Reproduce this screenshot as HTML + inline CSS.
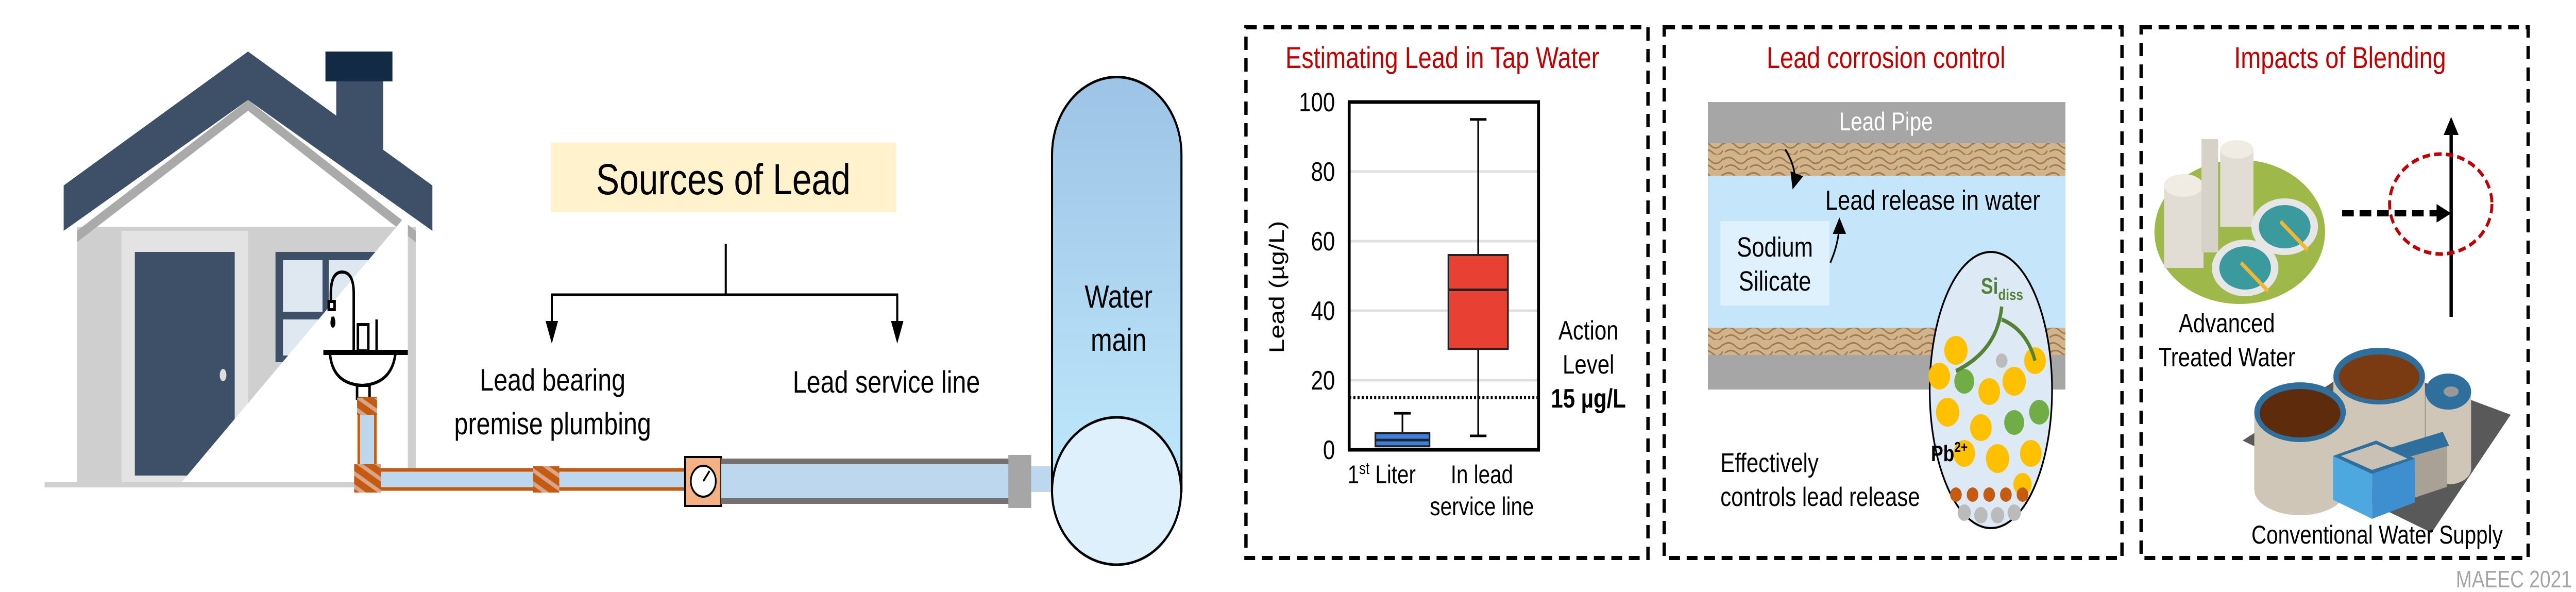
<!DOCTYPE html>
<html><head><meta charset="utf-8"><style>
html,body{margin:0;padding:0;background:#fff;width:100%;height:100%;overflow:hidden;}
svg{display:block;width:100vw;height:100vh;font-family:"Liberation Sans",Arial,sans-serif;}
</style></head><body>
<svg id="root" viewBox="0 0 6190 1149" preserveAspectRatio="none" xmlns="http://www.w3.org/2000/svg" overflow="hidden">
<defs>
<linearGradient id="mainGrad" x1="0" y1="0" x2="0" y2="1"><stop offset="0" stop-color="#9dc3e6"/><stop offset="1" stop-color="#bfe8fc"/></linearGradient>
<pattern id="hatch" width="22" height="22" patternUnits="userSpaceOnUse" patternTransform="rotate(-60)"><rect width="22" height="22" fill="#c55a11"/><rect width="8" height="22" fill="#d9a58a"/></pattern>
<pattern id="scale" width="60" height="30" patternUnits="userSpaceOnUse"><rect width="60" height="30" fill="#d2b48c"/><path d="M0 10 Q15 0 30 12 T60 8 M5 25 Q20 15 35 26 T60 22" stroke="#a07a4c" stroke-width="3" fill="none"/></pattern>
<marker id="ah" markerWidth="8" markerHeight="8" refX="6" refY="4" orient="auto"><path d="M0 0 L8 4 L0 8 Z" fill="#000"/></marker>
</defs>

<!-- HOUSE -->
<g>
<rect x="185" y="440" width="814" height="498" fill="#cfcfcf"/>
<polygon points="596,194 185,448 185,470 596,215" fill="#aaa"/>
<polygon points="596,194 999,448 999,470 596,215" fill="#aaa"/>
<rect x="808" y="158" width="113" height="135" fill="#3d5068"/>
<rect x="782" y="100" width="161" height="58" fill="#132a45"/>
<polygon points="153,360 596,100 1039,360 1039,448 596,194 153,448" fill="#3d5068"/>
<rect x="292" y="448" width="304" height="490" fill="#e3e3e3"/>
<rect x="324" y="489" width="240" height="434" fill="#3d5068"/>
<ellipse cx="536" cy="728" rx="8" ry="12" fill="#ddd"/>
<rect x="662" y="489" width="244" height="214" fill="#3d5068"/>
<rect x="680" y="505" width="95" height="100" fill="#dfe8f0"/><rect x="790" y="505" width="100" height="100" fill="#dfe8f0"/>
<rect x="680" y="620" width="95" height="70" fill="#dfe8f0"/><rect x="790" y="620" width="100" height="70" fill="#dfe8f0"/>
<polygon points="980,414 980,938 434,938" fill="#fff"/>
<rect x="107" y="936" width="744" height="10" fill="#d0d0d0"/>
</g>
<!-- SINK -->
<g fill="none" stroke="#000" stroke-width="6">
<path d="M850 681 L850 570 Q850 528 822 528 Q795 528 795 570 L795 585"/>
<rect x="790" y="585" width="14" height="16" fill="#fff"/>
<path d="M800 615 q-6 14 0 18 q6 -4 0 -18" />
<rect x="860" y="630" width="25" height="51" fill="#fff"/>
<line x1="905" y1="620" x2="905" y2="681"/>
<line x1="777" y1="684" x2="980" y2="684" stroke-width="10"/>
<path d="M793 688 Q800 745 870 748 Q940 745 950 688"/>
<rect x="858" y="748" width="30" height="25" fill="#fff"/>
</g>
<!-- PIPES -->
<g>
<rect x="862" y="773" width="40" height="170" fill="#bdd7ee" stroke="#c55a11" stroke-width="6"/>
<rect x="915" y="912" width="731" height="37" fill="#bdd7ee"/>
<line x1="900" y1="912" x2="1646" y2="912" stroke="#c55a11" stroke-width="7"/>
<line x1="900" y1="949" x2="1646" y2="949" stroke="#c55a11" stroke-width="7"/>
<rect x="858" y="773" width="48" height="32" fill="url(#hatch)"/>
<rect x="851" y="901" width="64" height="55" fill="url(#hatch)"/>
<rect x="1281" y="905" width="63" height="51" fill="url(#hatch)"/>
</g>
<g>
<rect x="1646" y="887" width="87" height="95" fill="#f4b183" stroke="#000" stroke-width="4"/>
<circle cx="1690" cy="934" r="30" fill="#fff" stroke="#000" stroke-width="4"/>
<line x1="1690" y1="934" x2="1705" y2="914" stroke="#000" stroke-width="4"/>
</g>
<g>
<rect x="1733" y="890" width="693" height="88" fill="#bdd7ee"/>
<rect x="1733" y="890" width="693" height="11" fill="#767171"/>
<rect x="1733" y="967" width="693" height="11" fill="#767171"/>
<rect x="2423" y="883" width="55" height="103" fill="#a6a6a6"/>
<rect x="2478" y="905" width="52" height="50" fill="#bdd7ee"/>
</g>
<g>
<path d="M2528 953 L2528 300 A155 150 0 0 1 2839 300 L2839 953 Z" fill="url(#mainGrad)" stroke="#000" stroke-width="5"/>
<ellipse cx="2683" cy="953" rx="155" ry="143" fill="#ddf0fc" stroke="#000" stroke-width="5"/>
<text x="2688" y="597" font-size="62" text-anchor="middle">Water</text>
<text x="2688" y="681" font-size="62" text-anchor="middle">main</text>
</g>
<!-- SOURCES -->
<rect x="1324" y="277" width="830" height="135" fill="#fff2cc"/>
<text x="1738" y="377" font-size="84" text-anchor="middle">Sources of Lead</text>
<g stroke="#000" stroke-width="5" fill="none">
<line x1="1744" y1="473" x2="1744" y2="572"/>
<line x1="1324" y1="572" x2="2158" y2="572"/>
<line x1="1326" y1="570" x2="1326" y2="630"/><line x1="2156" y1="570" x2="2156" y2="630"/>
</g>
<polygon points="1311,623 1341,623 1326,667" fill="#000"/>
<polygon points="2141,623 2171,623 2156,667" fill="#000"/>
<text x="1328" y="758" font-size="60" text-anchor="middle">Lead bearing</text>
<text x="1328" y="843" font-size="60" text-anchor="middle">premise plumbing</text>
<text x="2130" y="762" font-size="60" text-anchor="middle">Lead service line</text>

<!-- PANELS -->
<g fill="none" stroke="#000" stroke-width="8" stroke-dasharray="26 16">
<rect x="2994" y="53" width="966" height="1030"/>
<rect x="3999" y="53" width="1100" height="1030"/>
<rect x="5145" y="53" width="930" height="1030"/>
</g>
<text x="3466" y="132" font-size="58" fill="#c00000" text-anchor="middle">Estimating Lead in Tap Water</text>
<text x="4532" y="132" font-size="58" fill="#c00000" text-anchor="middle">Lead corrosion control</text>
<text x="5623" y="132" font-size="58" fill="#c00000" text-anchor="middle">Impacts of Blending</text>

<!-- CHART -->
<g id="chart"></g>
<text x="3817" y="659" font-size="52" text-anchor="middle">Action</text>
<text x="3817" y="725" font-size="52" text-anchor="middle">Level</text>
<text x="3817" y="791" font-size="52" font-weight="bold" text-anchor="middle">15 µg/L</text>

<!-- CORROSION -->
<g>
<rect x="4104" y="198" width="859" height="558" fill="#a6a6a6"/>
<rect x="4104" y="278" width="859" height="63" fill="url(#scale)"/>
<rect x="4104" y="341" width="859" height="295" fill="#c5e6fa"/>
<rect x="4104" y="636" width="859" height="53" fill="url(#scale)"/>
<text x="4532" y="253" font-size="50" fill="#fff" text-anchor="middle">Lead Pipe</text>
<path d="M4290 290 Q4320 330 4310 360" stroke="#000" stroke-width="4" fill="none" marker-end="url(#ah)"/>
<text x="4386" y="407" font-size="54">Lead release in water</text>
<rect x="4134" y="429" width="262" height="164" fill="#dff1fc"/>
<text x="4265" y="498" font-size="54" text-anchor="middle">Sodium</text>
<text x="4265" y="564" font-size="54" text-anchor="middle">Silicate</text>
<path d="M4398 510 Q4420 470 4420 430" stroke="#000" stroke-width="4" fill="none" marker-end="url(#ah)"/>
<ellipse cx="4784" cy="757" rx="147" ry="268" fill="#dde9f5" stroke="#000" stroke-width="4"/>
<g>
<circle cx="4700" cy="680" r="28" fill="#ffc000"/><circle cx="4660" cy="730" r="26" fill="#ffc000"/><circle cx="4720" cy="740" r="24" fill="#70ad47"/>
<circle cx="4780" cy="760" r="26" fill="#ffc000"/><circle cx="4840" cy="740" r="28" fill="#ffc000"/><circle cx="4890" cy="700" r="26" fill="#ffc000"/>
<circle cx="4810" cy="700" r="14" fill="#bbb"/><circle cx="4680" cy="800" r="28" fill="#ffc000"/><circle cx="4760" cy="830" r="26" fill="#ffc000"/>
<circle cx="4840" cy="820" r="24" fill="#70ad47"/><circle cx="4900" cy="800" r="24" fill="#70ad47"/><circle cx="4720" cy="880" r="26" fill="#ffc000"/>
<circle cx="4800" cy="890" r="28" fill="#ffc000"/><circle cx="4880" cy="880" r="26" fill="#ffc000"/><circle cx="4860" cy="940" r="22" fill="#ffc000"/>
<circle cx="4700" cy="960" r="14" fill="#c55a11"/><circle cx="4740" cy="960" r="14" fill="#c55a11"/><circle cx="4780" cy="960" r="14" fill="#c55a11"/><circle cx="4820" cy="960" r="14" fill="#c55a11"/><circle cx="4860" cy="960" r="14" fill="#c55a11"/>
<circle cx="4720" cy="995" r="16" fill="#bbb"/><circle cx="4760" cy="1000" r="16" fill="#bbb"/><circle cx="4800" cy="1000" r="16" fill="#bbb"/><circle cx="4840" cy="995" r="16" fill="#bbb"/>
</g>
<text x="4760" y="570" font-size="44" font-weight="bold" fill="#548235">Si<tspan font-size="30" dy="12">diss</tspan></text>
<path d="M4810 595 Q4800 680 4700 720" stroke="#548235" stroke-width="8" fill="none"/>
<path d="M4810 620 Q4870 640 4890 700" stroke="#548235" stroke-width="8" fill="none"/>
<text x="4640" y="895" font-size="44" font-weight="bold">Pb<tspan font-size="28" dy="-18">2+</tspan></text>
<text x="4134" y="916" font-size="52">Effectively</text>
<text x="4134" y="982" font-size="52">controls lead release</text>
</g>

<!-- BLENDING -->
<g>
<ellipse cx="5382" cy="450" rx="205" ry="140" fill="#9fb84a"/>
<rect x="5200" y="360" width="95" height="160" fill="#e2ddd4"/><ellipse cx="5247" cy="360" rx="47" ry="22" fill="#f0ece4"/>
<rect x="5290" y="270" width="40" height="220" fill="#d7d2c8"/>
<rect x="5335" y="290" width="80" height="150" fill="#e2ddd4"/><ellipse cx="5375" cy="290" rx="40" ry="18" fill="#f0ece4"/>
<ellipse cx="5490" cy="440" rx="80" ry="55" fill="#e6e6e6"/><ellipse cx="5490" cy="440" rx="62" ry="42" fill="#3a9a9e"/>
<ellipse cx="5395" cy="520" rx="80" ry="55" fill="#e6e6e6"/><ellipse cx="5395" cy="520" rx="62" ry="42" fill="#3a9a9e"/>
<line x1="5480" y1="430" x2="5545" y2="485" stroke="#f2b630" stroke-width="8"/><line x1="5385" y1="510" x2="5450" y2="565" stroke="#f2b630" stroke-width="8"/>
</g>
<text x="5351" y="645" font-size="52" text-anchor="middle">Advanced</text>
<text x="5351" y="711" font-size="52" text-anchor="middle">Treated Water</text>
<line x1="5890" y1="615" x2="5890" y2="250" stroke="#000" stroke-width="8"/>
<polygon points="5872,262 5908,262 5890,227" fill="#000"/>
<line x1="5628" y1="414" x2="5860" y2="414" stroke="#000" stroke-width="12" stroke-dasharray="28 14"/>
<polygon points="5855,396 5855,432 5890,414" fill="#000"/>
<ellipse cx="5865" cy="396" rx="123" ry="97" fill="none" stroke="#c00000" stroke-width="7" stroke-dasharray="18 10"/>
<g>
<polygon points="5389,855 5685,700 6033,805 5843,1034" fill="#595959"/>
<rect x="5828" y="760" width="110" height="150" fill="#cfc6b8"/><ellipse cx="5883" cy="910" rx="55" ry="30" fill="#cfc6b8"/><ellipse cx="5883" cy="760" rx="55" ry="35" fill="#2e6f9e"/><ellipse cx="5890" cy="760" rx="18" ry="10" fill="#999"/>
<rect x="5607" y="730" width="220" height="170" fill="#cfc6b8"/><ellipse cx="5717" cy="900" rx="110" ry="50" fill="#cfc6b8"/><ellipse cx="5717" cy="730" rx="110" ry="55" fill="#2e6f9e"/><ellipse cx="5717" cy="732" rx="97" ry="44" fill="#7a3a12"/>
<rect x="5417" y="800" width="220" height="150" fill="#cfc6b8"/><ellipse cx="5527" cy="950" rx="110" ry="50" fill="#cfc6b8"/><ellipse cx="5527" cy="800" rx="110" ry="58" fill="#2e6f9e"/><ellipse cx="5527" cy="802" rx="97" ry="47" fill="#5e2c0c"/>
<polygon points="5750,890 5880,860 5880,945 5750,980" fill="#a9a196"/><polygon points="5740,870 5870,838 5885,865 5752,895" fill="#2e6f9e"/>
<polygon points="5700,920 5803,890 5803,975 5700,1007" fill="#3e8fcf"/><polygon points="5606,885 5700,920 5700,1007 5606,970" fill="#4ea8e0"/>
<polygon points="5606,885 5710,855 5803,890 5700,920" fill="#2e6f9e"/><polygon points="5625,885 5710,862 5785,890 5700,912" fill="#c9c1b5"/>
</g>
<text x="5712" y="1055" font-size="50" text-anchor="middle">Conventional Water Supply</text>
<text x="6180" y="1140" font-size="46" fill="#a6a6a6" text-anchor="end">MAEEC 2021</text>
</svg>
<script>
const categories = ["1st Liter", "In lead service line"];
const q1Values = [1, 29];
const medianValues = [2.8, 46];
const q3Values = [4.8, 56];
const whiskerLow = [1, 4];
const whiskerHigh = [10.5, 95];
const boxColors = ["#3d7fe0", "#e84134"];
const yTicks = [0, 20, 40, 60, 80, 100];
const actionLevel = [15];

const NS = "http://www.w3.org/2000/svg";
const g = document.getElementById("chart");
const X0 = 3242, X1 = 3697, Y0 = 873, Y1 = 198;
const yScale = v => Y0 - (v - 0) / 100 * (Y0 - Y1);
const centers = [3370, 3552];
const boxW = [130, 143];
const xScale = i => centers[i];
function el(tag, attrs) { const e = document.createElementNS(NS, tag); for (const k in attrs) e.setAttribute(k, attrs[k]); g.appendChild(e); return e; }

yTicks.forEach(t => {
  if (t > 0 && t < 100) {
    const gl = el("line", {x1: X0, x2: X1, y1: yScale(t), y2: yScale(t), stroke: "#e0e0e0", "stroke-width": 5});
    
    
  }
  const tl = el("text", {x: 3208, y: yScale(t) + 18, "font-size": 52, "text-anchor": "end"});
  tl.textContent = t;
  
  
});
const frame = el("rect", {x: X0, y: Y1, width: X1 - X0, height: Y0 - Y1, fill: "none", stroke: "#000", "stroke-width": 7});


const al = el("line", {x1: X0, x2: X1, y1: yScale(actionLevel[0]), y2: yScale(actionLevel[0]), stroke: "#000", "stroke-width": 6, "stroke-dasharray": "5 5"});



categories.forEach((c, i) => {
  const cx = xScale(i), w = boxW[i];
  const wl = el("line", {x1: cx, x2: cx, y1: yScale(whiskerLow[i]), y2: yScale(whiskerHigh[i]), stroke: "#000", "stroke-width": 4});
  
  
  const cap = el("line", {x1: cx - 20, x2: cx + 20, y1: yScale(whiskerHigh[i]), y2: yScale(whiskerHigh[i]), stroke: "#000", "stroke-width": 5});
  
  
  if (i === 1) {
    const cap2 = el("line", {x1: cx - 20, x2: cx + 20, y1: yScale(whiskerLow[i]), y2: yScale(whiskerLow[i]), stroke: "#000", "stroke-width": 5});
    
    
  }
  const b = el("rect", {x: cx - w / 2, y: yScale(q3Values[i]), width: w, height: yScale(q1Values[i]) - yScale(q3Values[i]), fill: boxColors[i], stroke: "#222", "stroke-width": 4});
  
  
  const m = el("line", {x1: cx - w / 2, x2: cx + w / 2, y1: yScale(medianValues[i]), y2: yScale(medianValues[i]), stroke: "#222", "stroke-width": 5});
  
  
});
const xl1 = el("text", {x: 3320, y: 938, "font-size": 50, "text-anchor": "middle"});
xl1.innerHTML = '1<tspan font-size="32" dy="-18">st</tspan><tspan dy="18"> Liter</tspan>';


const xl2 = el("text", {x: 3561, y: 938, "font-size": 50, "text-anchor": "middle"});
xl2.textContent = "In lead";


const xl3 = el("text", {x: 3561, y: 1000, "font-size": 50, "text-anchor": "middle"});
xl3.textContent = "service line";


const yt = el("text", {x: 0, y: 0, "font-size": 50, "text-anchor": "middle", transform: "translate(3085,557) rotate(-90)"});
yt.textContent = "Lead (µg/L)";


</script>
</body></html>
